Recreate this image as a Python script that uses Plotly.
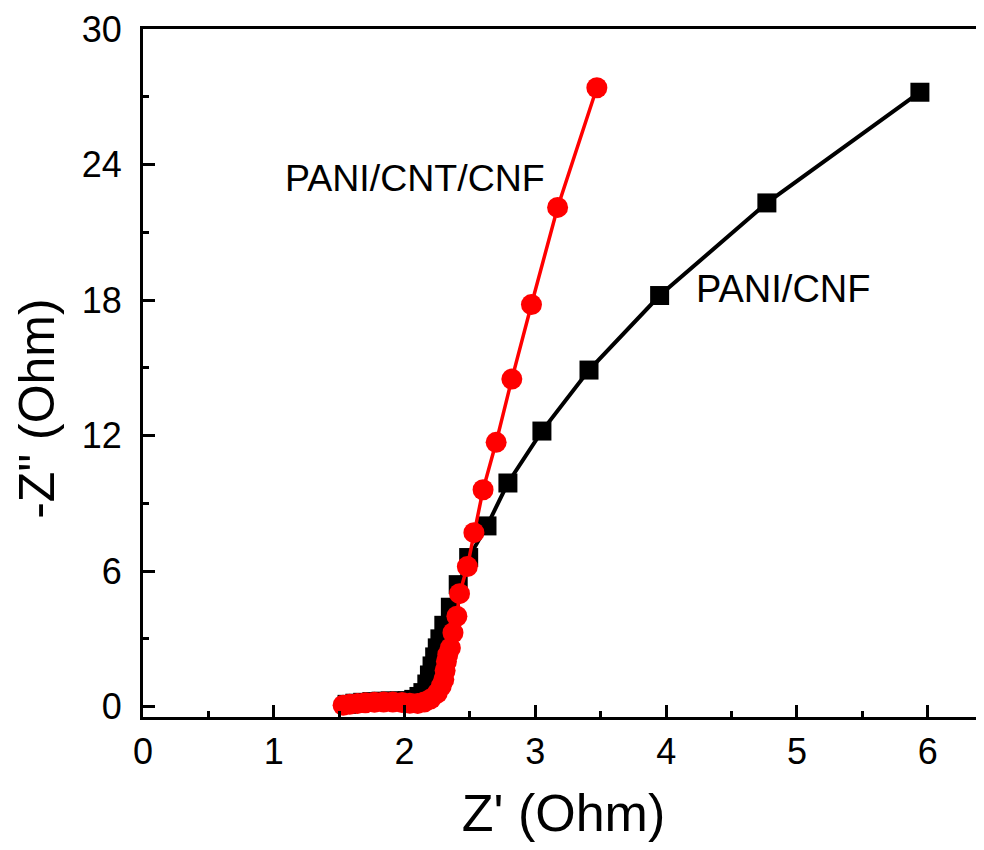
import plotly.graph_objects as go

# PANI/CNF (black squares)
cnf_x = [1.56, 1.62, 1.68, 1.75, 1.82, 1.89, 1.96, 2.02, 2.07, 2.11, 2.14, 2.17, 2.19, 2.21, 2.23, 2.25,
         2.27, 2.30, 2.35, 2.41, 2.49, 2.63, 2.79, 3.05, 3.41, 3.95, 4.77, 5.94]
cnf_y = [0.10, 0.15, 0.19, 0.22, 0.24, 0.25, 0.25, 0.26, 0.32, 0.45, 0.62, 1.0, 1.4, 1.8, 2.2, 2.6,
         3.0, 3.6, 4.4, 5.4, 6.6, 8.0, 9.9, 12.2, 14.9, 18.2, 22.3, 27.2]

# PANI/CNT/CNF (red circles)
cnt_x = [1.53, 1.58, 1.64, 1.70, 1.77, 1.84, 1.91, 1.98, 2.04, 2.10, 2.15, 2.20, 2.25, 2.28, 2.30,
         2.31, 2.32, 2.33, 2.35, 2.37, 2.40, 2.42, 2.48, 2.53, 2.60, 2.70, 2.82, 2.97, 3.17, 3.47]
cnt_y = [0.06, 0.10, 0.14, 0.17, 0.19, 0.20, 0.20, 0.18, 0.15, 0.14, 0.20, 0.34, 0.6, 0.9, 1.2,
         1.6, 2.0, 2.3, 2.6, 3.27, 4.0, 5.0, 6.2, 7.7, 9.6, 11.7, 14.5, 17.8, 22.1, 27.4]

x_ticks = [0, 1, 2, 3, 4, 5, 6]
y_ticks = [0, 6, 12, 18, 24, 30]

FONT = "Liberation Sans, Arial, sans-serif"

fig = go.Figure()
fig.add_trace(go.Scatter(
    x=cnf_x, y=cnf_y, mode="lines+markers", name="PANI/CNF",
    line=dict(color="black", width=4),
    marker=dict(symbol="square", size=19, color="black"),
    cliponaxis=False,
))
fig.add_trace(go.Scatter(
    x=cnt_x, y=cnt_y, mode="lines+markers", name="PANI/CNT/CNF",
    line=dict(color="#ff0000", width=3.5),
    marker=dict(symbol="circle", size=21, color="#ff0000"),
    cliponaxis=False,
))

fig.add_annotation(x=2.08, y=23.4, xref="x", yref="y", text="PANI/CNT/CNF",
                   showarrow=False, font=dict(family=FONT, size=37.5, color="black"))
fig.add_annotation(x=4.90, y=18.5, xref="x", yref="y", text="PANI/CNF",
                   showarrow=False, font=dict(family=FONT, size=38, color="black"))
# y-axis title (placed a little below the axis middle, as in the original)
fig.add_annotation(x=-0.126, y=0.448, xref="paper", yref="paper", text="-Z\" (Ohm)",
                   textangle=-90, xanchor="center", yanchor="middle", showarrow=False,
                   font=dict(family=FONT, size=50, color="black"))

# page body has an 8px margin, so the figure is sized/offset to compensate
fig.update_layout(
    width=976, height=834,
    margin=dict(l=135, r=0, t=21, b=125, autoexpand=False),
    paper_bgcolor="white", plot_bgcolor="white",
    showlegend=False,
    font=dict(family=FONT, color="black"),
)
fig.update_xaxes(
    range=[0, 6.43], tickvals=x_ticks, ticktext=[str(v) for v in x_ticks],
    automargin=False,
    showgrid=False, zeroline=False,
    showline=True, linecolor="black", linewidth=3, mirror=True,
    ticks="inside", ticklen=12, tickwidth=3, tickcolor="black",
    minor=dict(dtick=0.5, ticks="inside", ticklen=6, tickwidth=3, tickcolor="black", showgrid=False),
    tickfont=dict(family=FONT, size=36, color="black"),
    ticklabelstandoff=1,
    title=dict(text="Z' (Ohm)", font=dict(family=FONT, size=52, color="black"), standoff=29),
)
fig.update_yaxes(
    range=[-0.46, 30], tickvals=y_ticks, ticktext=[str(v) for v in y_ticks],
    automargin=False,
    showgrid=False, zeroline=False,
    showline=True, linecolor="black", linewidth=3, mirror=False,
    ticks="inside", ticklen=12, tickwidth=3, tickcolor="black",
    minor=dict(dtick=3, ticks="inside", ticklen=6, tickwidth=3, tickcolor="black", showgrid=False),
    tickfont=dict(family=FONT, size=36, color="black"),
    ticklabelstandoff=11,
)

fig.write_html("out.html")
